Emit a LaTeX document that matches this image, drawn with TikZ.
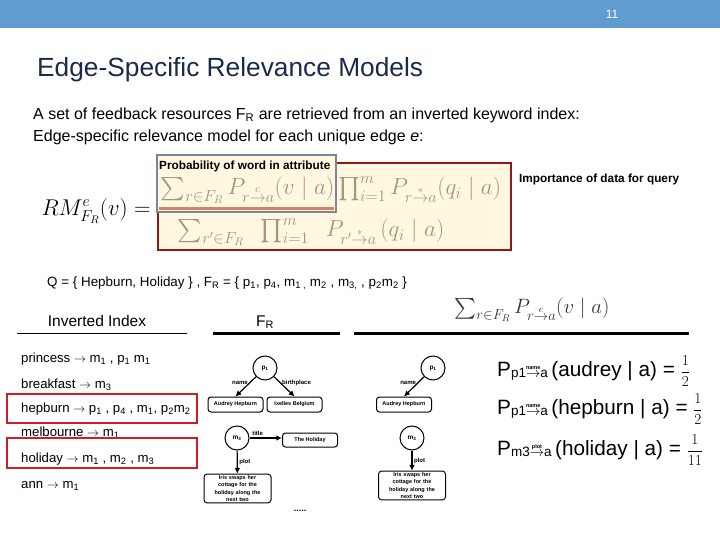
\documentclass[tikz,border=0pt]{standalone}
\usepackage{amsmath}
\usepackage{graphicx}
\usepackage{fontspec}
\setmainfont{Liberation Sans}
\usetikzlibrary{arrows.meta,positioning}

\definecolor{barblue}{RGB}{96,156,208}
\definecolor{titleblue}{RGB}{25,42,75}
\definecolor{hired}{RGB}{205,30,38}
\definecolor{darkred}{RGB}{150,22,20}
\definecolor{cream}{RGB}{255,247,224}
\definecolor{slate}{RGB}{125,133,155}
\definecolor{salmon}{RGB}{214,128,100}
\definecolor{faded}{RGB}{160,150,128}

% edge-labelled transition used in the probabilities
\newcommand{\ptrans}[2]{\raisebox{-1.5pt}{\fontsize{13.5}{15}\selectfont #1$\overset{\hbox{\fontsize{5.5}{6}\selectfont\bfseries #2}}{\rightarrow}$a}}
\newcommand{\pfrac}[2]{\scalebox{0.88}{\fontsize{17.28}{20}\selectfont$\dfrac{#1}{#2}$}}

\begin{document}
\begin{tikzpicture}[
  x=1pt, y=-1pt,
  >={Latex[length=2mm,width=2mm]},
  ent/.style   = {draw, circle, line width=1pt, minimum size=24pt, inner sep=0pt,
                  font=\fontsize{6.5}{7}\selectfont\bfseries},
  val/.style   = {draw, rounded corners=3pt, line width=1pt, align=center,
                  inner sep=1.5pt, minimum height=15pt,
                  font=\fontsize{5.5}{7.2}\selectfont\bfseries},
  elab/.style  = {font=\fontsize{6}{7}\selectfont\bfseries, inner sep=1.5pt},
  edge/.style  = {->, line width=1.2pt},
  idx/.style   = {anchor=west, inner sep=0pt, font=\fontsize{13.2}{16}\selectfont},
  hilite/.style= {draw=hired, line width=2.5pt},
  note/.style  = {font=\fontsize{11.8}{13}\selectfont\bfseries, inner sep=1pt},
  peq/.style   = {anchor=base west, inner sep=0pt, font=\fontsize{20.74}{24}\selectfont}
]

% ---- constants ----
\def\W{720}
\def\H{540}
\def\boxw{55pt}

\useasboundingbox (0,0) rectangle (\W,\H);

% ---- header ----
\fill[barblue] (0,0) rectangle (\W,28);
\node[text=white, font=\fontsize{12}{14}\selectfont] (pgno) at (612,14) {11};
\node[anchor=west, inner sep=0pt, text=titleblue, font=\fontsize{26.3}{30}\selectfont]
  (title) at (37,70) {Edge-Specific Relevance Models};
\node[anchor=west, inner sep=0pt, font=\fontsize{16}{18}\selectfont] (intro) at (33,115)
  {A set of feedback resources F\textsubscript{R} are retrieved from an inverted keyword index:};
\node[anchor=west, inner sep=0pt, font=\fontsize{16}{18}\selectfont] (edgeline) at (33,137)
  {Edge-specific relevance model for each unique edge \textit{e}:};

% ---- relevance model ----
\draw[draw=darkred, line width=2.5pt, fill=cream] (158,163) rectangle (511,250);
\draw[draw=slate, line width=2.5pt, fill=cream] (157,155) rectangle (336,212);
\draw[salmon, line width=2.2pt] (159,208.5) -- (334,208.5);

\node[font=\fontsize{20}{24}\selectfont] (rmlhs) at (96,211)
  {\scalebox{1.1}{$RM^{e}_{F_R}(v) =$}};
\node[text=faded, font=\fontsize{20}{24}\selectfont] (num) at (331,190)
  {\scalebox{1.12}{$\sum_{r\in F_R} P_{r\overset{e}{\to}a}(v\mid a)\prod_{i=1}^{m} P_{r\overset{*}{\to}a}(q_i\mid a)$}};
\node[text=faded, font=\fontsize{20}{24}\selectfont] (den) at (311,232)
  {\scalebox{1.12}{$\sum_{r'\in F_R}\;\; \prod_{i=1}^{m}\;\; P_{r'\overset{*}{\to}a}\,(q_i\mid a)$}};

\node[note, anchor=west] (probl) at (158,166) {Probability of word in attribute};
\node[note, anchor=west] (implab) at (518,179) {Importance of data for query};

% ---- query ----
\node[anchor=west, inner sep=0pt, font=\fontsize{13.4}{15}\selectfont] (qline) at (47,283)
  {Q = \{ Hepburn, Holiday \} , F\textsubscript{R} = \{ p\textsubscript{1}, p\textsubscript{4}, m\textsubscript{1 ,} m\textsubscript{2} , m\textsubscript{3,} , p\textsubscript{2}m\textsubscript{2} \}};

% ---- column heads ----
\node[font=\fontsize{15.5}{18}\selectfont] (invhead) at (97,321) {Inverted Index};
\node[font=\fontsize{15.5}{18}\selectfont] (frhead) at (265,322) {F\textsubscript{R}};
\node[text=black!80, font=\fontsize{20}{22}\selectfont] (sumhead) at (532,310)
  {$\sum_{r\in F_R} P_{r\overset{e}{\to}a}(v\mid a)$};
\draw[line width=0.8pt] (17,333) -- (187,333);
\draw[line width=3pt] (213,333) -- (340,333);
\draw[line width=3pt] (354,333) -- (689,333);

% ---- inverted index ----
\node[idx] (idx1) at (21,359) {princess $\rightarrow$ m\textsubscript{1} , p\textsubscript{1} m\textsubscript{1}};
\node[idx] (idx2) at (21,385) {breakfast $\rightarrow$ m\textsubscript{3}};
\node[idx] (idx3) at (21,409) {hepburn $\rightarrow$ p\textsubscript{1} , p\textsubscript{4} , m\textsubscript{1}, p\textsubscript{2}m\textsubscript{2}};
\node[idx] (idx4) at (21,433) {melbourne $\rightarrow$ m\textsubscript{1}};
\node[idx] (idx5) at (21,459) {holiday $\rightarrow$ m\textsubscript{1} , m\textsubscript{2} , m\textsubscript{3}};
\node[idx] (idx6) at (21,486) {ann $\rightarrow$ m\textsubscript{1}};
\draw[hilite] (7,394) rectangle (197,423);
\draw[hilite] (7,438) rectangle (197,468);

% ---- feedback graph (left) ----
\node[ent] (p1a) at (265,368) {p\textsubscript{1}};
\node[val, minimum width=\boxw] (aud1) at (235.5,404.5) {Audrey Hepburn};
\node[val, minimum width=\boxw] (ix1) at (294.5,404.5) {Ixelles Belgium};
\draw[edge] (p1a) -- node[elab, left, pos=0.3] {name} (aud1.north);
\draw[edge] (p1a) -- node[elab, right, pos=0.3] {birthplace} (ix1.north);

\node[ent] (m3a) at (237,438) {m\textsubscript{3}};
\node[val, minimum width=\boxw, minimum height=14pt] (hol) at (310,440) {The Holiday};
\draw[edge] (m3a.east) -- node[elab, above, pos=0.25] {title} (m3a.east -| hol.west);
\node[val, text width=64pt] (plot1) at (237.5,488.5)
  {Iris swaps her\\cottage for the\\holiday along the\\next two};
\draw[edge] (m3a) -- node[elab, right] {plot} (plot1);
\node[font=\fontsize{9}{10}\selectfont\bfseries] (dots) at (300,511) {.....};

% ---- feedback graph (right) ----
\node[ent] (p1b) at (433,368) {p\textsubscript{1}};
\node[val, minimum width=\boxw] (aud2) at (404,404.5) {Audrey Hepburn};
\draw[edge] (p1b) -- node[elab, left, pos=0.3] {name} (aud2.north);
\node[ent] (m3b) at (412,438) {m\textsubscript{3}};
\node[val, text width=64pt] (plot2) at (412,485.5)
  {Iris swaps her\\cottage for the\\holiday along the\\next two};
\draw[edge] (m3b) -- node[elab, right] {plot} (plot2);

% ---- probabilities ----
\node[peq] (eq1) at (497,376) {P\ptrans{p1}{name}\,(audrey | a) = \pfrac{1}{2}};
\node[peq] (eq2) at (497,414) {P\ptrans{p1}{name}\,(hepburn | a) = \pfrac{1}{2}};
\node[peq] (eq3) at (497,455) {P\ptrans{m3}{plot}\,(holiday | a) = \pfrac{1}{11}};

\end{tikzpicture}
\end{document}
